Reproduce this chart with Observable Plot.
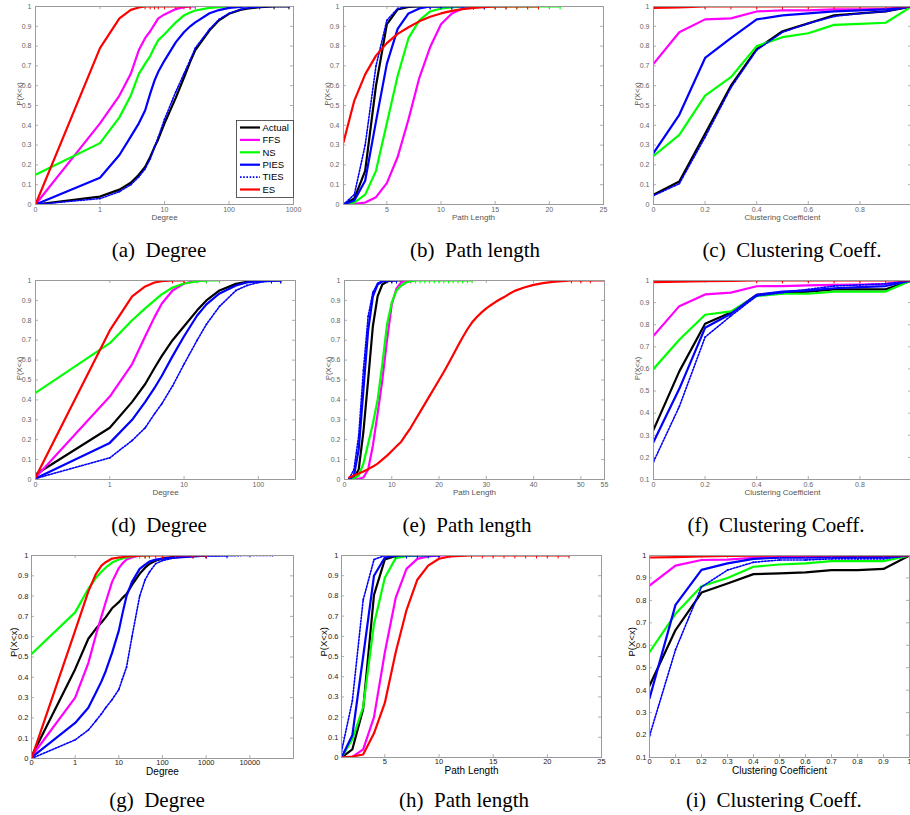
<!DOCTYPE html>
<html><head><meta charset="utf-8">
<script src="https://cdn.jsdelivr.net/npm/d3@7"></script>
<script src="https://cdn.jsdelivr.net/npm/@observablehq/plot@0.6"></script>
<style>
html,body{margin:0;padding:0;background:#fff;overflow:hidden}
#root{position:relative;width:910px;height:815px;overflow:hidden}
.title{position:absolute;font-family:"Liberation Serif","DejaVu Serif",serif;font-size:21px;line-height:20px;color:#000;transform:translateX(-50%);white-space:pre}
</style></head><body><div id="root"></div>
<script>
// ---------- series ----------
const seriesNames = ["Actual","FFS","NS","PIES","TIES","ES"];
const seriesColors = ["#000000","#ff00ff","#00ff00","#0000ff","#0000ff","#ff0000"];

// ---------- (a) Degree ----------
const a_x      = [0,1,2,3,4,5,6,7,8,10,15,20,25,30,50,70,100,150,200,300,500,850];
const a_Actual = [0,0.04,0.075,0.11,0.15,0.19,0.24,0.29,0.33,0.41,0.54,0.64,0.72,0.78,0.88,0.93,0.963,0.983,0.99,0.997,1,1];
const a_FFS    = [0,0.41,0.55,0.66,0.78,0.84,0.875,0.91,0.94,0.96,0.987,0.997,1,1];
const a_NS     = [0.15,0.31,0.44,0.55,0.66,0.71,0.75,0.795,0.83,0.86,0.92,0.955,0.97,0.98,0.993,0.997,1];
const a_PIES   = [0,0.135,0.25,0.343,0.41,0.475,0.56,0.626,0.67,0.727,0.82,0.87,0.9,0.92,0.966,0.982,0.993,0.998,1,1];
const a_TIES   = [0,0.03,0.065,0.1,0.14,0.18,0.23,0.29,0.34,0.43,0.57,0.66,0.73,0.79,0.885,0.935,0.965,0.985,0.993,0.998,1,1];
const a_ES     = [0,0.79,0.94,0.983,0.995,1,1,1,1,1,1,1,1];

// ---------- (b) Path length ----------
const b_x      = [1,2,3,4,5,6,7,8,9,10,11,12,13,14,15,16,17,18,19,20,21];
const b_Actual = [0,0.03,0.17,0.6,0.91,0.985,0.998,1,1,1,1,1,1];
const b_FFS    = [0,0.003,0.01,0.037,0.108,0.24,0.43,0.64,0.795,0.91,0.965,0.99,0.998,1,1,1];
const b_NS     = [0,0.01,0.05,0.17,0.41,0.65,0.84,0.93,0.975,0.99,0.996,1,1,1,1,1,1,1,1,1,1];
const b_PIES   = [0,0.02,0.12,0.42,0.71,0.887,0.965,0.99,1,1,1,1,1,1];
const b_TIES   = [0,0.05,0.3,0.7,0.93,0.99,1,1,1,1];
const b_ES     = [0.315,0.525,0.657,0.752,0.815,0.862,0.895,0.925,0.948,0.965,0.978,0.987,0.993,0.997,1,1,1,1,1];

// ---------- (c) Clustering coefficient ----------
const c_x      = [0,0.1,0.2,0.3,0.4,0.5,0.6,0.7,0.8,0.9,1];
const c_Actual = [0.049,0.116,0.357,0.6,0.785,0.875,0.915,0.955,0.965,0.975,1];
const c_FFS    = [0.71,0.87,0.935,0.94,0.975,0.98,0.98,0.985,0.985,0.988,1];
const c_NS     = [0.245,0.352,0.55,0.643,0.8,0.845,0.865,0.907,0.912,0.918,1];
const c_PIES   = [0.26,0.453,0.74,0.84,0.935,0.955,0.965,0.975,0.98,0.985,1];
const c_TIES   = [0.045,0.105,0.34,0.59,0.78,0.87,0.915,0.95,0.965,0.975,1];
const c_ES     = [0.993,0.995,1,1,1,1,1,1,1,1,1];

// ---------- (d) Degree ----------
const d_x      = [0,1,2,3,4,5,7,10,15,20,30,50,70,100,150,200];
const d_Actual = [0.025,0.26,0.39,0.48,0.56,0.62,0.7,0.77,0.85,0.9,0.95,0.983,0.993,0.997,1,1];
const d_FFS    = [0.01,0.417,0.58,0.72,0.816,0.883,0.95,0.985,1,1];
const d_NS     = [0.435,0.685,0.8,0.86,0.9,0.93,0.965,0.985,0.995,1,1];
const d_PIES   = [0.005,0.184,0.3,0.39,0.46,0.52,0.62,0.72,0.824,0.88,0.935,0.975,0.99,0.997,1,1];
const d_TIES   = [0.005,0.109,0.196,0.26,0.33,0.38,0.47,0.58,0.7,0.78,0.87,0.95,0.975,0.99,0.997,1];
const d_ES     = [0.01,0.749,0.92,0.97,0.99,0.997,1,1];

// ---------- (e) Path length ----------
const e_x      = [1,2,3,4,5,6,7,8,9,10,11,12,13,14,15,16,17,18,19,20,21,22,23,24,25,26,27,28,29,30,31,32,33,34,35,36,38,40,42,44,46,48,50,52,55];
const e_Actual = [0,0.01,0.05,0.24,0.5,0.77,0.92,0.98,0.995,1,1,1,1];
const e_FFS    = [0,0,0.003,0.01,0.05,0.17,0.33,0.5,0.7,0.88,0.96,0.99,1,1];
const e_NS     = [0,0.005,0.02,0.08,0.18,0.28,0.4,0.58,0.78,0.89,0.95,0.975,0.99,0.996,1,1,1,1,1,1,1,1,1,1,1,1,1];
const e_PIES   = [0,0.02,0.15,0.45,0.75,0.92,0.98,0.995,1,1,1];
const e_TIES   = [0.005,0.05,0.22,0.55,0.82,0.94,0.985,1,1,1,1];
const e_ES     = [0.01,0.02,0.03,0.04,0.052,0.065,0.08,0.1,0.12,0.143,0.167,0.19,0.225,0.26,0.3,0.34,0.38,0.42,0.46,0.5,0.54,0.583,0.627,0.672,0.715,0.755,0.79,0.817,0.84,0.86,0.877,0.893,0.907,0.92,0.935,0.948,0.965,0.978,0.987,0.993,0.997,1,1,1,1];

// ---------- (f) Clustering coefficient ----------
const f_x      = [0,0.1,0.2,0.3,0.4,0.5,0.6,0.7,0.8,0.9,1];
const f_Actual = [0.325,0.589,0.804,0.855,0.935,0.945,0.95,0.96,0.96,0.96,1];
const f_FFS    = [0.75,0.884,0.937,0.945,0.974,0.975,0.978,0.98,0.982,0.985,1];
const f_NS     = [0.6,0.732,0.845,0.86,0.93,0.94,0.94,0.95,0.95,0.95,1];
const f_PIES   = [0.27,0.51,0.786,0.85,0.935,0.95,0.955,0.965,0.97,0.975,1];
const f_TIES   = [0.18,0.43,0.744,0.84,0.93,0.945,0.96,0.975,0.98,0.985,1];
const f_ES     = [0.993,0.995,0.997,0.998,1,1,1,1,1,1,1];

// ---------- (g) Degree ----------
const g_x      = [0,1,2,3,4,5,7,10,12,15,20,30,40,50,70,100,200,500,1000,3000,10000,33000];
const g_Actual = [0.01,0.44,0.59,0.64,0.67,0.695,0.74,0.77,0.79,0.81,0.855,0.91,0.94,0.958,0.975,0.985,0.995,1,1];
const g_FFS    = [0.01,0.3,0.47,0.61,0.7,0.77,0.87,0.938,0.96,0.98,0.99,1,1];
const g_NS     = [0.515,0.72,0.836,0.89,0.92,0.94,0.965,0.98,0.985,0.99,0.995,1,1,1];
const g_PIES   = [0.005,0.175,0.25,0.325,0.38,0.43,0.52,0.63,0.71,0.8,0.87,0.934,0.955,0.97,0.98,0.985,0.99,0.995,1,1];
const g_TIES   = [0,0.092,0.14,0.186,0.22,0.25,0.29,0.34,0.39,0.45,0.6,0.8,0.88,0.918,0.96,0.975,0.99,0.995,0.997,0.999,1,1];
const g_ES     = [0,0.63,0.822,0.91,0.95,0.967,0.985,0.99,0.992,0.995,0.997,0.999,1,1,1,1,1,1,1];

// ---------- (h) Path length ----------
const h_x      = [1,2,3,4,5,6,7,8,9,10,11,12,13,14,15,16,17,18,19,20,21,22];
const h_Actual = [0,0.04,0.24,0.805,0.98,0.998,1];
const h_FFS    = [0,0.003,0.04,0.2,0.52,0.79,0.934,0.983,0.995,1,1];
const h_NS     = [0,0.09,0.25,0.66,0.89,0.987,0.997,1,1];
const h_PIES   = [0,0.11,0.5,0.9,0.99,1,1,1,1,1];
const h_TIES   = [0.03,0.28,0.78,0.98,1,1,1,1,1,1];
const h_ES     = [0,0.005,0.015,0.12,0.27,0.52,0.73,0.88,0.95,0.984,0.995,0.998,1,1,1,1,1,1,1,1,1,1];

// ---------- (i) Clustering coefficient ----------
const i_x      = [0,0.1,0.2,0.3,0.4,0.5,0.6,0.7,0.8,0.9,1];
const i_Actual = [0.42,0.668,0.835,0.875,0.917,0.92,0.925,0.935,0.935,0.94,1];
const i_FFS    = [0.866,0.955,0.98,0.982,0.99,0.993,0.995,0.996,0.997,0.998,1];
const i_NS     = [0.569,0.74,0.863,0.9,0.95,0.96,0.965,0.975,0.975,0.975,1];
const i_PIES   = [0.363,0.78,0.936,0.965,0.985,0.99,0.99,0.992,0.993,0.993,1];
const i_TIES   = [0.196,0.58,0.86,0.935,0.97,0.98,0.98,0.985,0.985,0.985,1];
const i_ES     = [0.991,0.993,0.996,0.998,0.999,1,1,1,1,1,1];

// ---------- tick labels ----------
const degTicksA = [0,1,10,100,1000];
const degTicksD = [0,1,10,100];
const degTicksG = [0,1,10,100,1000,10000];
const pathTicksB = [5,10,15,20,25];
const pathTicksE = [0,10,20,30,40,50,55];
const ccTicks5 = [0,0.2,0.4,0.6,0.8];
const ccTicks10 = [0,0.1,0.2,0.3,0.4,0.5,0.6,0.7,0.8,0.9,1];
const pTicks0 = [0,0.1,0.2,0.3,0.4,0.5,0.6,0.7,0.8,0.9,1];
const pTicks1 = [0.1,0.2,0.3,0.4,0.5,0.6,0.7,0.8,0.9,1];

const titles = ["(a)  Degree","(b)  Path length","(c)  Clustering Coeff.","(d)  Degree","(e)  Path length","(f)  Clustering Coeff.","(g)  Degree","(h)  Path length","(i)  Clustering Coeff."];

const logT = v => v === 0 ? -1 : Math.log10(v);

const panels = [
  {x:a_x, ys:[a_Actual,a_FFS,a_NS,a_PIES,a_TIES,a_ES], log:true, L:35,R:293,T:6,B:204, xd:[-1,3], xt:degTicksA, yd:[0,1], yt:pTicks0, xl:"Degree", row:1, title:titles[0], tx:159},
  {x:b_x, ys:[b_Actual,b_FFS,b_NS,b_PIES,b_TIES,b_ES], L:343,R:603,T:6,B:204, xd:[1,25], xt:pathTicksB, yd:[0,1], yt:pTicks0, xl:"Path Length", row:1, title:titles[1], tx:475},
  {x:c_x, ys:[c_Actual,c_FFS,c_NS,c_PIES,c_TIES,c_ES], L:653,R:911,T:6,B:204, xd:[0,1], xt:ccTicks5, yd:[0,1], yt:pTicks0, xl:"Clustering Coefficient", row:1, title:titles[2], tx:792},
  {x:d_x, ys:[d_Actual,d_FFS,d_NS,d_PIES,d_TIES,d_ES], log:true, L:35,R:295,T:280,B:479, xd:[-1,2.5], xt:degTicksD, yd:[0,1], yt:pTicks0, xl:"Degree", row:2, title:titles[3], tx:159},
  {x:e_x, ys:[e_Actual,e_FFS,e_NS,e_PIES,e_TIES,e_ES], L:344,R:604,T:280,B:479, xd:[0,55], xt:pathTicksE, yd:[0,1], yt:pTicks0, xl:"Path Length", row:2, title:titles[4], tx:467},
  {x:f_x, ys:[f_Actual,f_FFS,f_NS,f_PIES,f_TIES,f_ES], L:653,R:911,T:280,B:479, xd:[0,1], xt:ccTicks5, yd:[0.1,1], yt:pTicks1, xl:"Clustering Coefficient", row:2, title:titles[5], tx:776},
  {x:g_x, ys:[g_Actual,g_FFS,g_NS,g_PIES,g_TIES,g_ES], log:true, L:31,R:293,T:555,B:758, xd:[-1,5], xt:degTicksG, yd:[0,1], yt:pTicks0, xl:"Degree", row:3, title:titles[6], tx:157},
  {x:h_x, ys:[h_Actual,h_FFS,h_NS,h_PIES,h_TIES,h_ES], L:341,R:601,T:555,B:757, xd:[1,25], xt:pathTicksB, yd:[0,1], yt:pTicks0, xl:"Path Length", row:3, title:titles[7], tx:464},
  {x:i_x, ys:[i_Actual,i_FFS,i_NS,i_PIES,i_TIES,i_ES], L:649,R:909,T:555,B:757, xd:[0,1], xt:ccTicks10, yd:[0.1,1], yt:pTicks1, xl:"Clustering Coefficient", row:3, title:titles[8], tx:774},
];
const titleTop = {1:240, 2:515, 3:790};

const root = document.getElementById("root");
const frameColor = "#9a9a9a";

for (const p of panels) {
  const mL = 40, mR = 24, mT = 6, mB = 34;
  const W = p.R - p.L, H = p.B - p.T;
  const tf = p.log ? logT : (v => v);
  const rows = [];
  p.ys.forEach((ys, si) => ys.forEach((v, i) => { if (v != null) rows.push({s: si, x: tf(p.x[i]), y: v}); }));
  const big = p.row === 3;
  const xTickVals = p.xt.map(tf);
  const marks = [];
  // inward ticks on all four sides
  marks.push(Plot.tickX(xTickVals, {x: d => d, insetTop: H - 3, stroke: frameColor, strokeWidth: 0.8}));
  marks.push(Plot.tickX(xTickVals, {x: d => d, insetBottom: H - 3, stroke: frameColor, strokeWidth: 0.8}));
  marks.push(Plot.tickY(p.yt, {y: d => d, insetRight: W - 3, stroke: frameColor, strokeWidth: 0.8}));
  marks.push(Plot.tickY(p.yt, {y: d => d, insetLeft: W - 3, stroke: frameColor, strokeWidth: 0.8}));
  for (let si = 0; si < 6; si++) {
    const data = rows.filter(r => r.s === si);
    if (si === 4) {
      marks.push(Plot.line(data, {x: "x", y: "y", stroke: seriesColors[si], strokeWidth: 1.6, strokeDasharray: "1.6,1.6", clip: true}));
      marks.push(Plot.dot(data, {x: "x", y: "y", r: 0.9, fill: seriesColors[si], clip: true}));
    } else {
      marks.push(Plot.line(data, {x: "x", y: "y", stroke: seriesColors[si], strokeWidth: 2.2, clip: true}));
      marks.push(Plot.dot(data.filter(r => r.y >= 1), {x: "x", y: "y", symbol: "plus", r: 2, stroke: seriesColors[si], strokeWidth: 1, clip: true}));
    }
  }
  marks.push(Plot.frame({stroke: frameColor, strokeWidth: 1}));
  marks.push(Plot.text([p.xl], {text: d => d, frameAnchor: "bottom", dy: big ? 16 : 15, fontSize: big ? 10 : 8, fill: big ? "#000" : "#555"}));
  marks.push(Plot.text(["P(X<x)"], {text: d => d, frameAnchor: "left", dx: big ? -18 : -16, rotate: -90, fontSize: big ? 9.5 : 7.5, fill: big ? "#000" : "#555"}));

  const svg = Plot.plot({
    width: W + mL + mR, height: H + mT + mB,
    marginLeft: mL, marginRight: mR, marginTop: mT, marginBottom: mB,
    style: {fontFamily: "'Liberation Sans', Arial, sans-serif", fontSize: big ? "7.5px" : "7px", color: big ? "#222" : "#666", background: "transparent", overflow: "visible"},
    x: {domain: p.xd, ticks: xTickVals, tickFormat: p.log ? (t => t < 0 ? "0" : String(Math.round(10 ** t))) : (d => String(+d.toFixed(2))), tickSize: 0, tickPadding: big ? 1.5 : 3, label: null},
    y: {domain: p.yd, ticks: p.yt, tickFormat: d => String(+d.toFixed(2)), tickSize: 0, tickPadding: big ? 3 : 4, label: null},
    marks
  });
  svg.style.position = "absolute";
  svg.style.left = (p.L - mL) + "px";
  svg.style.top = (p.T - mT) + "px";
  root.appendChild(svg);

  const t = document.createElement("div");
  t.className = "title";
  t.textContent = p.title;
  t.style.left = p.tx + "px";
  t.style.top = titleTop[p.row] + "px";
  root.appendChild(t);
}

// legend in panel (a)
const NS = "http://www.w3.org/2000/svg";
const lg = document.createElementNS(NS, "svg");
lg.setAttribute("width", 58); lg.setAttribute("height", 78);
lg.style.position = "absolute"; lg.style.left = "236px"; lg.style.top = "120px";
const rect = document.createElementNS(NS, "rect");
rect.setAttribute("x", 0.5); rect.setAttribute("y", 0.5); rect.setAttribute("width", 57); rect.setAttribute("height", 77);
rect.setAttribute("fill", "#fff"); rect.setAttribute("stroke", "#333"); rect.setAttribute("stroke-width", 0.8);
lg.appendChild(rect);
seriesNames.forEach((name, k) => {
  const y = 7.5 + k * 12.4;
  const ln = document.createElementNS(NS, "line");
  ln.setAttribute("x1", 4); ln.setAttribute("x2", 24); ln.setAttribute("y1", y); ln.setAttribute("y2", y);
  ln.setAttribute("stroke", seriesColors[k]);
  ln.setAttribute("stroke-width", k === 4 ? 1.6 : 2.2);
  if (k === 4) ln.setAttribute("stroke-dasharray", "1.6,1.6");
  lg.appendChild(ln);
  const tx = document.createElementNS(NS, "text");
  tx.setAttribute("x", 26.5); tx.setAttribute("y", y); tx.setAttribute("dy", "0.35em");
  tx.setAttribute("font-family", "'Liberation Sans', Arial, sans-serif");
  tx.setAttribute("font-size", "9.5px"); tx.setAttribute("fill", "#000");
  tx.textContent = name;
  lg.appendChild(tx);
});
root.appendChild(lg);
</script>
</body></html>
